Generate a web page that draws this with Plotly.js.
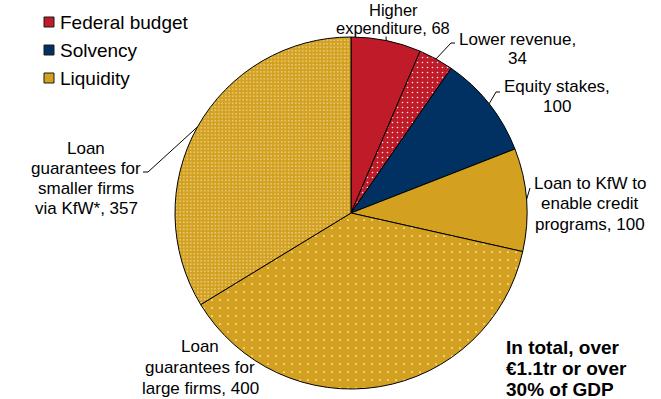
<!DOCTYPE html>
<html><head><meta charset="utf-8">
<script src="https://cdn.plot.ly/plotly-3.0.1.min.js"></script>
<style>html,body{margin:0;padding:0;background:#fff}#chart{width:661px;height:399px}</style>
</head><body><div id="chart"></div>
<script>
// ---- data ----
const sliceLabels = ["Higher expenditure", "Lower revenue", "Equity stakes", "Loan to KfW to enable credit programs", "Loan guarantees for large firms", "Loan guarantees for smaller firms via KfW*"];
const sliceValues = [68, 34, 100, 100, 400, 357];
const sliceGroup = ["Federal budget", "Federal budget", "Solvency", "Liquidity", "Liquidity", "Liquidity"];
const legendItems = ["Federal budget", "Solvency", "Liquidity"];
const labelLines = [
  ["Higher", "expenditure, 68"],
  ["Lower revenue,", "34"],
  ["Equity stakes,", "100"],
  ["Loan to KfW to", "enable credit", "programs, 100"],
  ["Loan", "guarantees for", "large firms, 400"],
  ["Loan", "guarantees for", "smaller firms", "via KfW*, 357"]
];
const totalNote = ["In total, over", "€1.1tr or over", "30% of GDP"];

// ---- styles ----
const W = 661, H = 399;
const CX = 351, CY = 213, R = 176;
const groupColors = {"Federal budget": "#BF1B28", "Solvency": "#013162", "Liquidity": "#D3A11F"};
const patShape = ["", ".", "", "", ".", "."];
const patSize = [6, 5, 6, 6, 8, 3.5];
const patSolid = [0.1, 0.08, 0.1, 0.1, 0.035, 0.12];
const labelPos = [
  {x: 393, ys: [9.5, 28.5], size: 16.5},
  {x: 517, ys: [39.5, 58.5]},
  {x: 557, ys: [86.5, 106]},
  {x: 589.5, ys: [183, 203.5, 224]},
  {x: 200, ys: [346, 367, 388]},
  {x: 86, ys: [148, 168, 188, 208]}
];
const leaders = [
  [[386, 36.5]],
  [[451, 43], [455, 43]],
  [[496, 92], [500, 92]],
  [[530, 188]],
  null,
  [[148, 172], [143, 172]]
];
const font = "Liberation Sans, Arial, sans-serif";

const px = x => x / W, py = y => 1 - y / H;

const shapes = [], annotations = [];
const total = sliceValues.reduce((a, b) => a + b, 0);
let cum = 0;
sliceValues.forEach((v, i) => {
  const mid = (cum + v / 2) / total * 2 * Math.PI;
  cum += v;
  if (!leaders[i]) return;
  let pts = [[CX + R * Math.sin(mid), CY - R * Math.cos(mid)]].concat(leaders[i]);
  for (let k = 0; k < pts.length - 1; k++) {
    shapes.push({type: "line", xref: "paper", yref: "paper",
      x0: px(pts[k][0]), y0: py(pts[k][1]), x1: px(pts[k + 1][0]), y1: py(pts[k + 1][1]),
      line: {color: "#000", width: 1}});
  }
});
labelLines.forEach((lines, i) => {
  lines.forEach((t, k) => {
    annotations.push({text: t, xref: "paper", yref: "paper", x: px(labelPos[i].x), y: py(labelPos[i].ys[k]),
      xanchor: "center", yanchor: "middle", showarrow: false, borderpad: 0,
      font: {family: font, size: labelPos[i].size || 17, color: "#000"}});
  });
});
[347, 368, 389].forEach((y, k) => {
  annotations.push({text: "<b>" + totalNote[k] + "</b>", xref: "paper", yref: "paper", x: px(505), y: py(y),
    xanchor: "left", yanchor: "middle", showarrow: false, borderpad: 0, font: {family: font, size: 19, color: "#000"}});
});
[22, 50, 78].forEach((y, k) => {
  shapes.push({type: "rect", xref: "paper", yref: "paper", x0: px(44), x1: px(54), y0: py(y - 5), y1: py(y + 5),
    fillcolor: groupColors[legendItems[k]], line: {color: "#1a1a1a", width: 1}});
  annotations.push({text: legendItems[k], xref: "paper", yref: "paper", x: px(58), y: py(y),
    xanchor: "left", yanchor: "middle", showarrow: false, font: {family: font, size: 19, color: "#000"}});
});

const sliceColors = sliceGroup.map(g => groupColors[g]);
const trace = {
  type: "pie", labels: sliceLabels, values: sliceValues, sort: false, direction: "clockwise", rotation: 0,
  textinfo: "none", hoverinfo: "none", showlegend: false,
  domain: {x: [px(CX - R), px(CX + R)], y: [py(CY + R), py(CY - R)]},
  marker: {colors: sliceColors, line: {color: "#000", width: 1},
    pattern: {shape: patShape, size: patSize, solidity: patSolid, fgcolor: "#ffffff", bgcolor: sliceColors, fgopacity: 0.9, fillmode: "replace"}}
};
Plotly.newPlot("chart", [trace], {
  width: W, height: H, margin: {l: 0, r: 0, t: 0, b: 0}, paper_bgcolor: "#fff", showlegend: false,
  shapes: shapes, annotations: annotations, font: {family: font}
}, {staticPlot: true});
</script></body></html>
